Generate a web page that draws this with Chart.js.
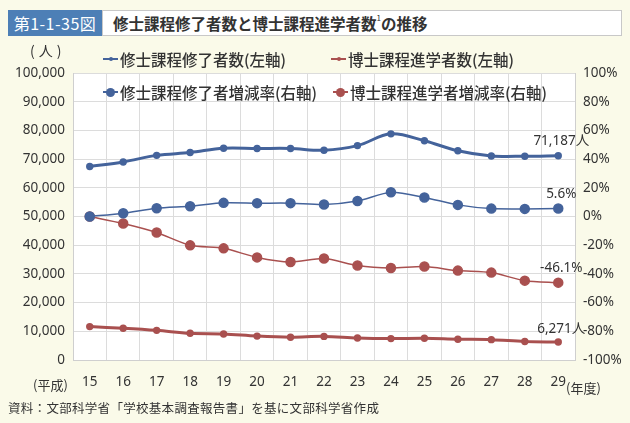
<!DOCTYPE html>
<html><head><meta charset="utf-8">
<script src="https://cdn.jsdelivr.net/npm/chart.js@4"></script>
<style>
html,body{margin:0;padding:0;}
body{width:630px;height:423px;background:#fafae9;position:relative;overflow:hidden;font-family:"Noto Sans CJK JP","Noto Sans",sans-serif;color:#333;}
#c{position:absolute;left:0;top:0;}
.abs{position:absolute;white-space:nowrap;}
#tbox{left:8px;top:10px;width:94px;height:26px;background:#4d7fb6;color:#fff;font-size:16px;letter-spacing:0.5px;line-height:26px;text-align:center;}
#ttl{left:102px;top:10px;width:508px;height:24px;background:#fff;border:1px solid #c8c8c8;font-size:15.5px;font-weight:bold;line-height:24px;padding-left:10px;box-sizing:content-box;color:#333;}
#ttl sup{font-size:8px;font-weight:normal;vertical-align:top;position:relative;top:-5px;}
.leg{font-size:15.5px;font-weight:500;color:#333;line-height:18px;}
.mk{position:absolute;}
</style></head><body>
<div id="tbox" class="abs">第1-1-35図</div>
<div id="ttl" class="abs">修士課程修了者数と博士課程進学者数<sup>1</sup>の推移</div>
<canvas id="c" width="630" height="423"></canvas>
<div class="abs" style="left:30px;top:40px;font-size:14px;letter-spacing:4px;">(人)</div>
<div class="abs" style="left:33px;top:375px;font-size:13px;">(平成)</div>
<div class="abs" style="left:566px;top:378px;font-size:13px;">(年度)</div>
<div class="abs" style="left:8px;top:398px;font-size:12.5px;letter-spacing:0.3px;">資料：文部科学省「学校基本調査報告書」を基に文部科学省作成</div>
<div id="legend"></div>
<script>
const categories = ["15","16","17","18","19","20","21","22","23","24","25","26","27","28","29"];
const masterGrads = [67412,69000,71300,72300,73800,73700,73700,73100,74700,78800,76400,72900,71100,71000,71187];
const doctoralEntrants = [11635,11070,10330,9300,9050,8320,7950,8230,7660,7460,7570,7250,7090,6440,6271];
const masterRate = [0,2.3,5.8,7.2,9.5,9.3,9.3,8.4,10.8,16.9,13.3,8.1,5.5,5.3,5.6];
const doctoralRate = [0,-4.9,-11.2,-20.1,-22.2,-28.5,-31.7,-29.3,-34.2,-35.9,-34.9,-37.7,-39.1,-44.7,-46.1];
const seriesNames = ["修士課程修了者数(左軸)","博士課程進学者数(左軸)","修士課程修了者増減率(右軸)","博士課程進学者増減率(右軸)"];
const leftTicks = {min:0,max:100000,step:10000};
const rightTicks = {min:-100,max:100,step:20};

const BLUE = "#44639b", RED = "#a9504f";
const FONT = "'Noto Sans','Noto Sans CJK JP',sans-serif";

// legend (HTML)
const leg = document.getElementById('legend');
const legPos = [[103,49,false,BLUE],[331,49,false,RED],[103,82,true,BLUE],[333,82,true,RED]];
legPos.forEach((p,i)=>{
  const [x,y,big,col]=p;
  const line=document.createElement('div');
  line.className='mk';
  line.style.cssText=`left:${x}px;top:${y+9}px;width:15px;height:${big?1.5:2}px;background:${col};`;
  leg.appendChild(line);
  const dot=document.createElement('div');
  dot.className='mk';
  const r = big?4.5:2;
  dot.style.cssText=`left:${x+7.5-r}px;top:${y+10-r}px;width:${2*r}px;height:${2*r}px;border-radius:50%;background:${col};`;
  leg.appendChild(dot);
  const t=document.createElement('div');
  t.className='abs leg';
  t.style.left=(x+17)+'px'; t.style.top=(y+1)+'px';
  t.textContent=seriesNames[i];
  leg.appendChild(t);
});

const areaPlugin = {
  id:'area',
  beforeDraw(chart){
    const {ctx,chartArea:a}=chart;
    ctx.save();
    ctx.fillStyle='#ffffff';
    ctx.fillRect(a.left,a.top,a.right-a.left,a.bottom-a.top);
    ctx.restore();
  },
  afterDatasetsDraw(chart){
    const {ctx}=chart;
    ctx.save();
    ctx.font="13.5px "+FONT;
    ctx.fillStyle="#333";
    ctx.textAlign='center';
    ctx.textBaseline='bottom';
    const last = categories.length-1;
    const labels = [
      [0, masterGrads[last].toLocaleString('en-US')+"人", 8],
      [2, masterRate[last].toFixed(1)+"%", 8],
      [3, doctoralRate[last].toFixed(1)+"%", 8],
      [1, doctoralEntrants[last].toLocaleString('en-US')+"人", 6]
    ];
    labels.forEach(([di,txt,dy])=>{
      const pt = chart.getDatasetMeta(di).data[last];
      ctx.fillText(txt, pt.x+3, pt.y-dy);
    });
    ctx.restore();
  }
};

new Chart(document.getElementById('c'),{
  type:'line',
  data:{
    labels:categories,
    datasets:[
      {label:seriesNames[0],data:masterGrads,yAxisID:'y',borderColor:BLUE,backgroundColor:BLUE,borderWidth:3,pointRadius:2.2,tension:0.35},
      {label:seriesNames[1],data:doctoralEntrants,yAxisID:'y',borderColor:RED,backgroundColor:RED,borderWidth:3,pointRadius:2.2,tension:0.35},
      {label:seriesNames[2],data:masterRate,yAxisID:'y2',borderColor:BLUE,backgroundColor:BLUE,borderWidth:1.5,pointRadius:4.5,tension:0.25},
      {label:seriesNames[3],data:doctoralRate,yAxisID:'y2',borderColor:RED,backgroundColor:RED,borderWidth:1.5,pointRadius:4.5,tension:0.25}
    ]
  },
  options:{
    responsive:false,animation:false,
    layout:{padding:{left:0,right:0,top:73,bottom:0}},
    plugins:{legend:{display:false},tooltip:{enabled:false}},
    scales:{
      x:{
        offset:true,
        grid:{offset:true,color:'#dcdcdc',drawTicks:false},
        border:{color:'#cfcfcf'},
        ticks:{padding:14,color:'#333',font:{size:13.5,family:FONT},maxRotation:0},
        afterFit(s){s.height=63;}
      },
      y:{
        position:'left',min:leftTicks.min,max:leftTicks.max,
        grid:{color:'#dcdcdc',drawTicks:false},
        border:{color:'#cfcfcf'},
        ticks:{stepSize:leftTicks.step,padding:8,color:'#333',font:{size:13.5,family:FONT},callback:v=>v.toLocaleString('en-US')},
        afterFit(s){s.width=73;}
      },
      y2:{
        position:'right',min:rightTicks.min,max:rightTicks.max,
        grid:{display:false,drawTicks:false},
        border:{color:'#cfcfcf'},
        ticks:{stepSize:rightTicks.step,padding:8,color:'#333',font:{size:13.5,family:FONT},callback:v=>v+'%'},
        afterFit(s){s.width=55;}
      }
    }
  },
  plugins:[areaPlugin]
});
</script>
</body></html>
